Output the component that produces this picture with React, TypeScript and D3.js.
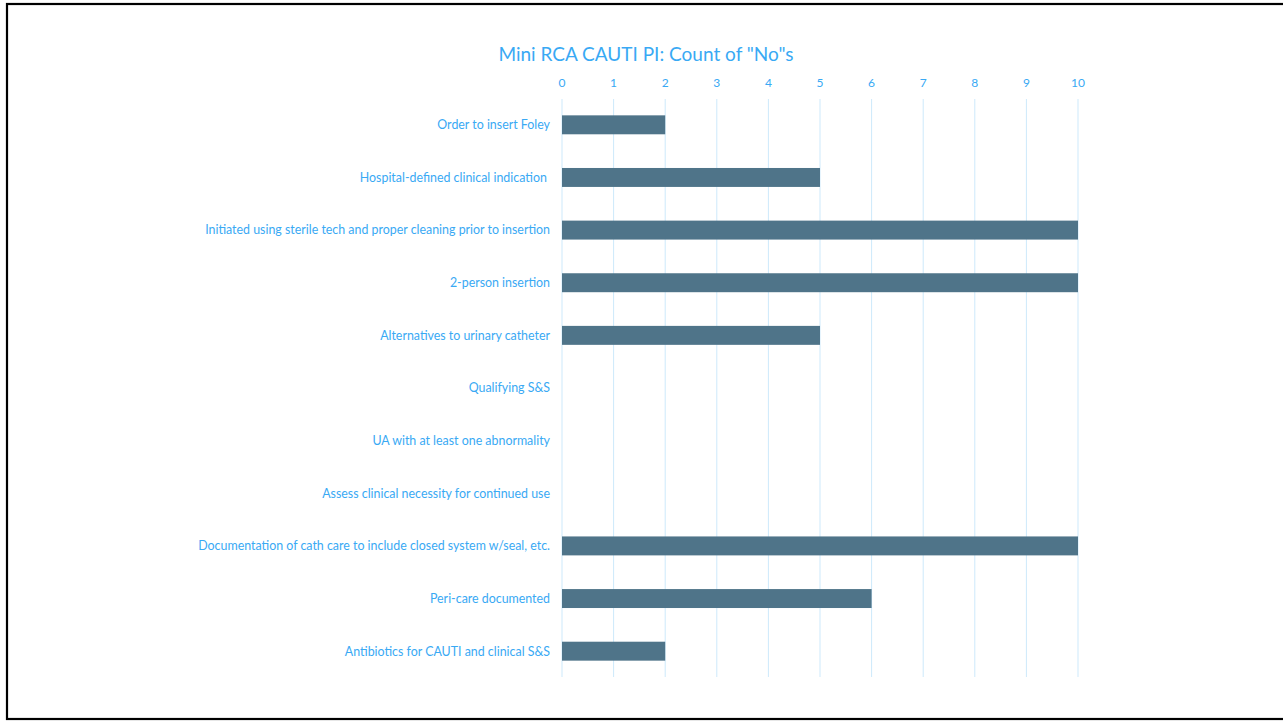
import React from "react";
import * as d3 from "d3";

const categories = [
  "Order to insert Foley",
  "Hospital-defined clinical indication\u00a0",
  "Initiated using sterile tech and proper cleaning prior to insertion",
  "2-person insertion",
  "Alternatives to urinary catheter",
  "Qualifying S&S",
  "UA with at least one abnormality",
  "Assess clinical necessity for continued use",
  "Documentation of cath care to include closed system w/seal, etc.",
  "Peri-care documented",
  "Antibiotics for CAUTI and clinical S&S",
];
const values = [2, 5, 10, 10, 5, 0, 0, 0, 10, 6, 2];
const xTicks = [0, 1, 2, 3, 4, 5, 6, 7, 8, 9, 10];
const title = 'Mini RCA CAUTI PI: Count of "No"s';

const W = 1283;
const H = 721;
const FONT = "Lato, 'Open Sans', sans-serif";
const TEXT = "#39a9f4";
const GRID = "#cde9fb";
const BAR = "#4f7489";

export default function App() {
  const x = d3.scaleLinear().domain([0, 10]).range([562, 1078]);
  const y = d3
    .scaleBand<string>()
    .domain(categories)
    .range([98.5, 677.5])
    .paddingInner(0.64)
    .paddingOuter(0.32);

  return (
    <svg
      width={W}
      height={H}
      style={{ position: "absolute", left: 0, top: 0, display: "block" }}
      fontFamily={FONT}
    >
      <rect x={0} y={0} width={W} height={H} fill="#fff" />
      <rect x={7} y={4} width={W + 10} height={715} fill="none" stroke="#000" strokeWidth={2.2} />
      <text x={646} y={61} textAnchor="middle" fontSize={19} fill={TEXT}>
        {title}
      </text>
      {xTicks.map((t) => (
        <g key={t}>
          <line x1={x(t)} x2={x(t)} y1={99} y2={677} stroke={GRID} strokeWidth={1} />
          <text x={x(t)} y={87} textAnchor="middle" fontSize={12} fill={TEXT}>
            {t}
          </text>
        </g>
      ))}
      {categories.map((c, i) => (
        <g key={c}>
          {values[i] > 0 && (
            <rect
              x={x(0)}
              y={y(c)!}
              width={x(values[i]) - x(0)}
              height={y.bandwidth()}
              fill={BAR}
            />
          )}
          <text
            x={550}
            y={y(c)! + y.bandwidth() / 2}
            dy="0.35em"
            textAnchor="end"
            fontSize={12.4}
            fill={TEXT}
            style={{ whiteSpace: "pre" }}
          >
            {c}
          </text>
        </g>
      ))}
    </svg>
  );
}
